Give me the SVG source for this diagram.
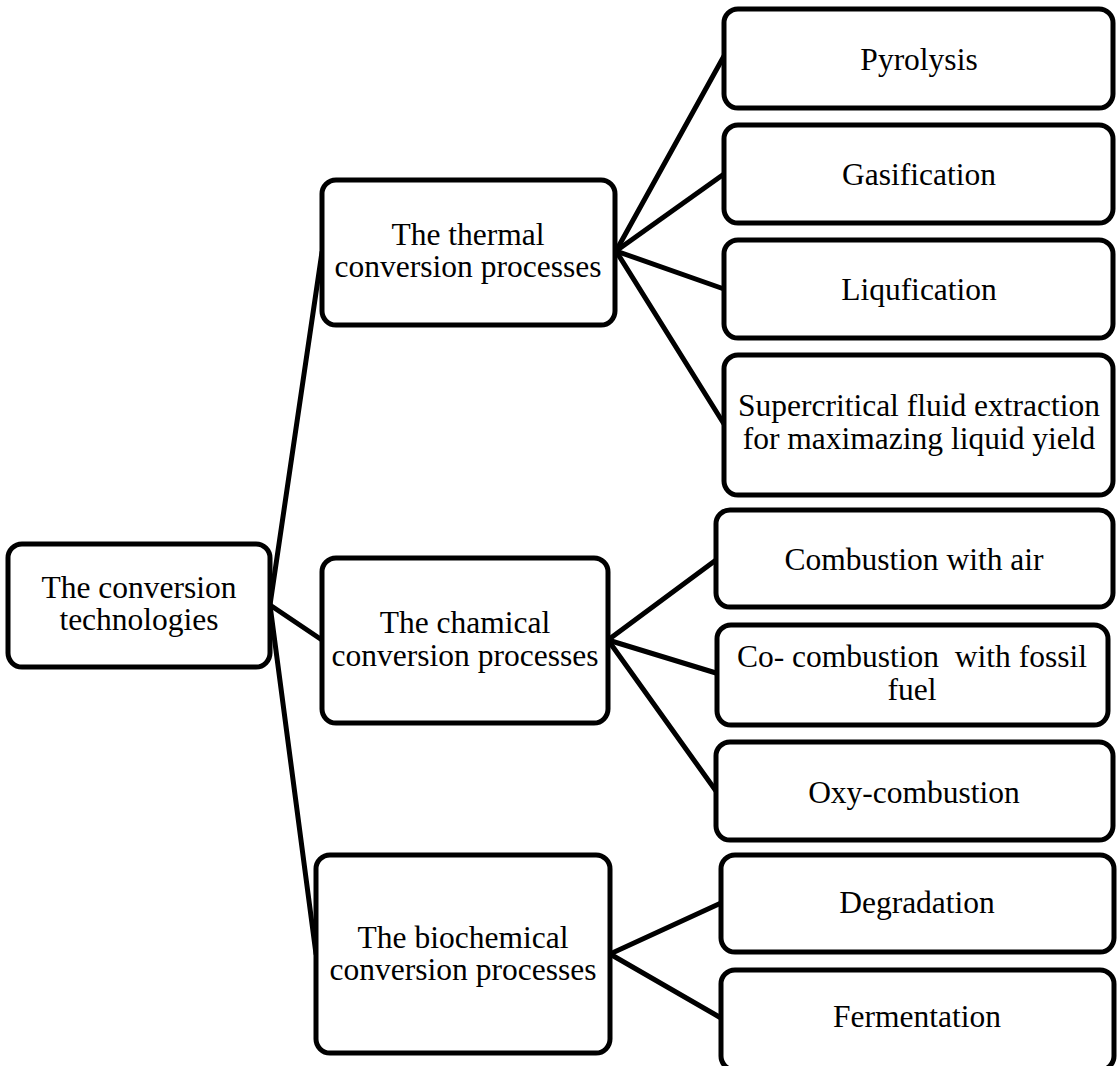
<svg xmlns="http://www.w3.org/2000/svg" width="1118" height="1066" viewBox="0 0 1118 1066">
<style>
.box{fill:#fff;stroke:#000;stroke-width:5}
.lbl{font-family:"Liberation Serif","Times New Roman",serif;font-size:31.5px;fill:#000;text-anchor:middle}
.con line{stroke:#000;stroke-width:5;stroke-linecap:round}
</style>
<rect width="1118" height="1066" fill="#fff"/>
<g id="connectors" class="con">
<line x1="270" y1="605" x2="322" y2="252"/>
<line x1="270" y1="605" x2="322" y2="640"/>
<line x1="270" y1="605" x2="316" y2="954"/>
<line x1="616" y1="251" x2="724" y2="56"/>
<line x1="616" y1="251" x2="724" y2="174"/>
<line x1="616" y1="251" x2="724" y2="289"/>
<line x1="616" y1="251" x2="724" y2="424"/>
<line x1="608" y1="640" x2="716" y2="560"/>
<line x1="608" y1="640" x2="716" y2="673"/>
<line x1="608" y1="640" x2="716" y2="791"/>
<line x1="610" y1="954" x2="721" y2="903"/>
<line x1="610" y1="954" x2="721" y2="1018"/>
</g>
<g id="root">
<rect class="box" x="8" y="544" width="262" height="123" rx="14"/>
<text class="lbl" x="139" y="598">The conversion</text>
<text class="lbl" x="139" y="630">technologies</text>
</g>
<g id="thermal">
<rect class="box" x="322" y="180" width="293" height="145" rx="14"/>
<text class="lbl" x="468" y="245">The thermal</text>
<text class="lbl" x="468" y="277">conversion processes</text>
</g>
<g id="chemical">
<rect class="box" x="322" y="558" width="286" height="165" rx="14"/>
<text class="lbl" x="465" y="633">The chamical</text>
<text class="lbl" x="465" y="666">conversion processes</text>
</g>
<g id="biochemical">
<rect class="box" x="316" y="855" width="294" height="198" rx="14"/>
<text class="lbl" x="463" y="948">The biochemical</text>
<text class="lbl" x="463" y="980">conversion processes</text>
</g>
<g id="pyrolysis">
<rect class="box" x="724" y="9" width="389" height="99" rx="14"/>
<text class="lbl" x="919" y="70">Pyrolysis</text>
</g>
<g id="gasification">
<rect class="box" x="724" y="125" width="389" height="98" rx="14"/>
<text class="lbl" x="919" y="185">Gasification</text>
</g>
<g id="liqufication">
<rect class="box" x="724" y="240" width="389" height="98" rx="14"/>
<text class="lbl" x="919" y="300">Liqufication</text>
</g>
<g id="supercritical">
<rect class="box" x="724" y="355" width="389" height="140" rx="14"/>
<text class="lbl" x="919" y="416">Supercritical fluid extraction</text>
<text class="lbl" x="919" y="449">for maximazing liquid yield</text>
</g>
<g id="combustion-air">
<rect class="box" x="716" y="510" width="397" height="97" rx="14"/>
<text class="lbl" x="914" y="570">Combustion with air</text>
</g>
<g id="co-combustion">
<rect class="box" x="717" y="625" width="391" height="100" rx="14"/>
<text class="lbl" x="912" y="667" xml:space="preserve">Co- combustion  with fossil</text>
<text class="lbl" x="912" y="700">fuel</text>
</g>
<g id="oxy-combustion">
<rect class="box" x="716" y="742" width="397" height="98" rx="14"/>
<text class="lbl" x="914" y="803">Oxy-combustion</text>
</g>
<g id="degradation">
<rect class="box" x="721" y="855" width="393" height="97" rx="14"/>
<text class="lbl" x="917" y="913">Degradation</text>
</g>
<g id="fermentation">
<rect class="box" x="721" y="970" width="393" height="100" rx="14"/>
<text class="lbl" x="917" y="1027">Fermentation</text>
</g>
</svg>
